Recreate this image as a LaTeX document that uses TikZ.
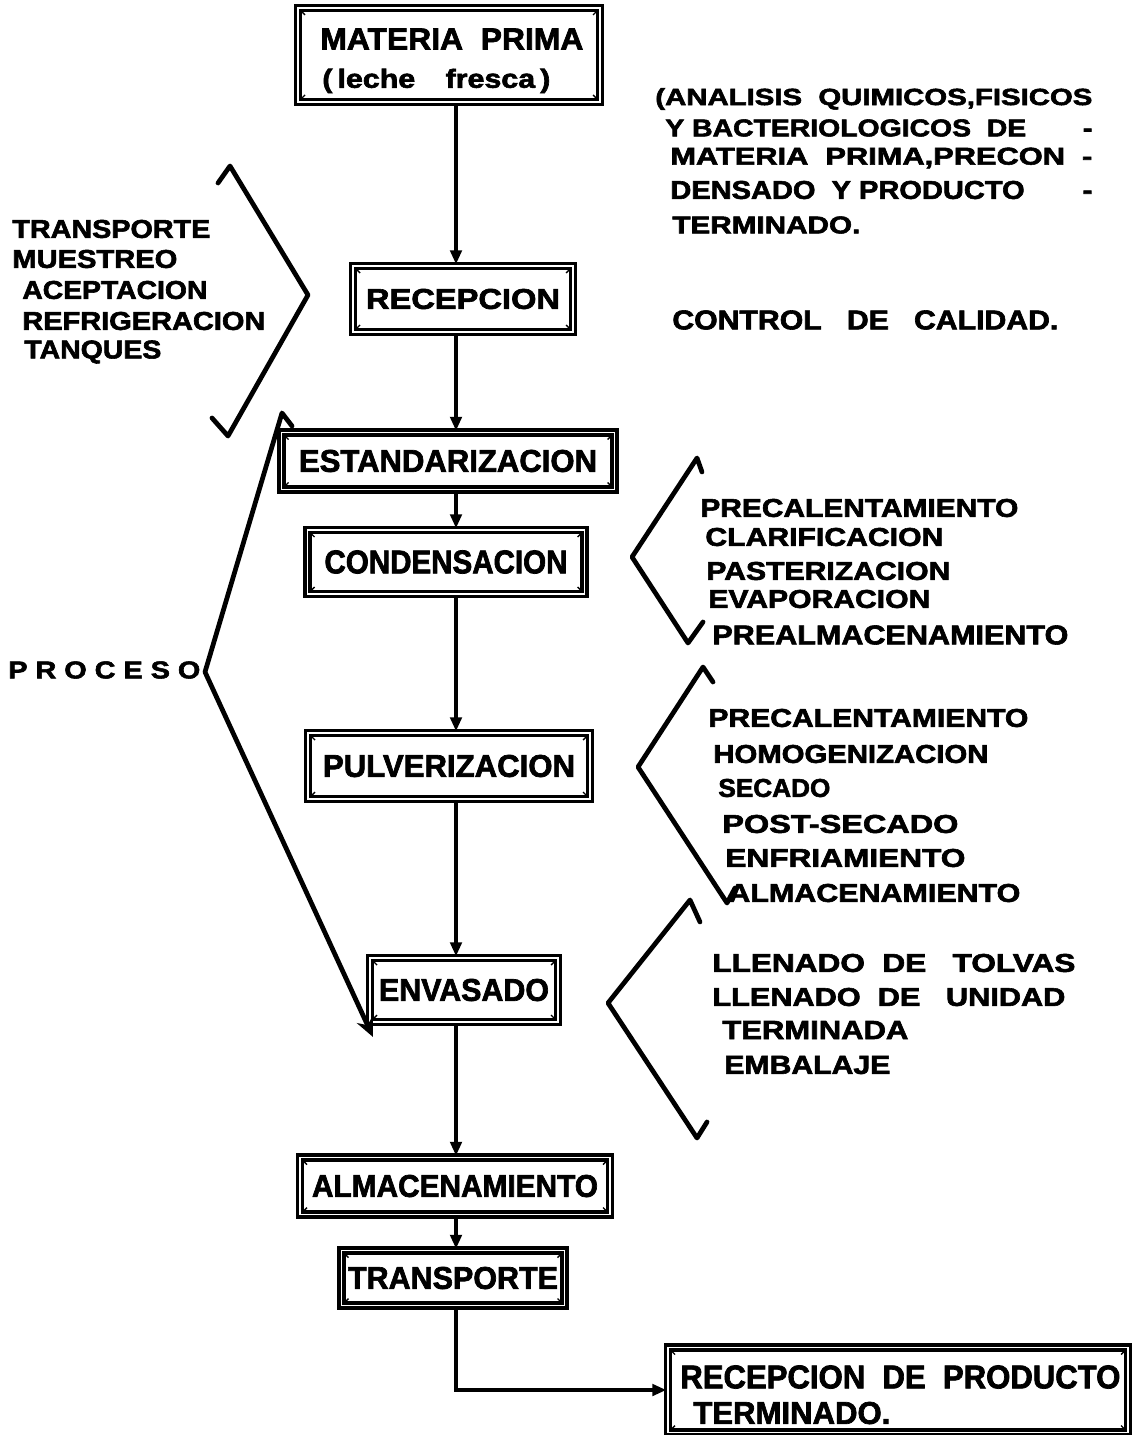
\documentclass[tikz,border=0pt]{standalone}
\usepackage{fontspec}
\setmainfont{Liberation Sans}[BoldFeatures={FakeBold=2.2}]
\usetikzlibrary{arrows.meta}
\newlength\pxu
\setlength\pxu{0.02cm}
\newcommand\T[3]{\resizebox{#1\pxu}{#2\pxu}{\bfseries #3}}
\begin{document}
\begin{tikzpicture}[x=0.02cm,y=-0.02cm,
  box/.style={draw, line width=1.9pt, double, double distance=0.8pt, inner sep=0pt, fill=white,
    path picture={\draw[line width=0.8pt]
      (path picture bounding box.north west) -- ++(7\pxu,-7\pxu)
      (path picture bounding box.north east) -- ++(-7\pxu,-7\pxu)
      (path picture bounding box.south west) -- ++(7\pxu,7\pxu)
      (path picture bounding box.south east) -- ++(-7\pxu,7\pxu);}},
  flow/.style={line width=2.3pt, -{Triangle[length=8pt,width=6.5pt]}},
  brk/.style={line width=2.7pt, line join=round, line cap=round},
  lbl/.style={anchor=west, inner sep=0pt}]
\useasboundingbox (0,0) rectangle (1135,1435);
\fill[white] (0,0) rectangle (1135,1435);
\coordinate (spine) at (456,0);

% boxes
\node[box, minimum width=302\pxu, minimum height=94\pxu] (mp) at (449,55) {};
\node[lbl] (mp1) at (320,39) {\T{263}{21}{MATERIA\ \ PRIMA}};
\node[lbl] (mp2) at (322,81) {\T{228}{19}{(\,leche\quad fresca\,)}};
\node[box, minimum width=220\pxu, minimum height=66\pxu] (rec) at (463,299) {\T{194}{20}{RECEPCION}};
\node[box, minimum width=333\pxu, minimum height=57\pxu] (est) at (448,461) {\T{298}{22}{ESTANDARIZACION}};
\node[box, minimum width=277\pxu, minimum height=64\pxu] (cond) at (446,562) {\T{243}{23}{CONDENSACION}};
\node[box, minimum width=282\pxu, minimum height=66\pxu] (pulv) at (449,766) {\T{252}{22}{PULVERIZACION}};
\node[box, minimum width=188\pxu, minimum height=64\pxu] (env) at (464,990) {\T{170}{22}{ENVASADO}};
\node[box, minimum width=310\pxu, minimum height=57\pxu] (alm) at (455,1186) {\T{286}{22}{ALMACENAMIENTO}};
\node[box, minimum width=223\pxu, minimum height=55\pxu] (trans) at (453,1278) {\T{210}{22}{TRANSPORTE}};
\node[box, minimum width=460\pxu, minimum height=85\pxu] (rpt) at (898,1390) {};
\node[lbl] (rpt1) at (680,1377) {\T{440}{23}{RECEPCION\ \ DE\ \ PRODUCTO}};
\node[lbl] (rpt2) at (693,1413) {\T{197}{22}{TERMINADO.}};

% flow connectors
\draw[flow] (mp.south -| spine) -- (rec.north -| spine);
\draw[flow] (rec.south -| spine) -- (est.north -| spine);
\draw[flow] (est.south -| spine) -- (cond.north -| spine);
\draw[flow] (cond.south -| spine) -- (pulv.north -| spine);
\draw[flow] (pulv.south -| spine) -- (env.north -| spine);
\draw[flow] (env.south -| spine) -- (alm.north -| spine);
\draw[flow] (alm.south -| spine) -- (trans.north -| spine);
\draw[flow] (trans.south -| spine) |- (rpt.west);

% top right texts
\node[lbl] (q1) at (655,99) {\T{437}{17}{(ANALISIS\ \ QUIMICOS,FISICOS}};
\node[lbl] (q2) at (665,128) {\T{427}{17}{Y BACTERIOLOGICOS\ \ DE\qquad -}};
\node[lbl] (q3) at (670,158) {\T{422}{17}{MATERIA\ \ PRIMA,PRECON\ \ -}};
\node[lbl] (q4) at (670,190) {\T{422}{18}{DENSADO\ \ Y PRODUCTO\qquad -}};
\node[lbl] (q5) at (672,225) {\T{188}{17}{TERMINADO.}};
\node[lbl] (cc) at (672,320) {\T{386}{19}{CONTROL\ \ \ DE\ \ \ CALIDAD.}};

% left texts
\node[lbl] (r1) at (12,229) {\T{198}{18}{TRANSPORTE}};
\node[lbl] (r2) at (12,259) {\T{165}{18}{MUESTREO}};
\node[lbl] (r3) at (22,290) {\T{185}{18}{ACEPTACION}};
\node[lbl] (r4) at (22,321) {\T{243}{18}{REFRIGERACION}};
\node[lbl] (r5) at (24,352) {\T{137}{18}{TANQUES}};
\node[lbl] (proc) at (8,670) {\T{192}{17}{P\ R\ O\ C\ E\ S\ O}};

% condensacion list
\node[lbl] (c1) at (700,508) {\T{318}{18}{PRECALENTAMIENTO}};
\node[lbl] (c2) at (705,537) {\T{238}{18}{CLARIFICACION}};
\node[lbl] (c3) at (706,571) {\T{244}{18}{PASTERIZACION}};
\node[lbl] (c4) at (708,599) {\T{222}{18}{EVAPORACION}};
\node[lbl] (c5) at (712,635) {\T{356}{19}{PREALMACENAMIENTO}};

% pulverizacion list
\node[lbl] (p1) at (708,718) {\T{320}{18}{PRECALENTAMIENTO}};
\node[lbl] (p2) at (713,754) {\T{275}{18}{HOMOGENIZACION}};
\node[lbl] (p3) at (718,788) {\T{112}{18}{SECADO}};
\node[lbl] (p4) at (722,824) {\T{236}{18}{POST-SECADO}};
\node[lbl] (p5) at (725,858) {\T{240}{18}{ENFRIAMIENTO}};
\node[lbl] (p6) at (728,893) {\T{292}{18}{ALMACENAMIENTO}};

% envasado list
\node[lbl] (e1) at (712,963) {\T{363}{18}{LLENADO\ \ DE\ \ \ TOLVAS}};
\node[lbl] (e2) at (712,997) {\T{353}{18}{LLENADO\ \ DE\ \ \ UNIDAD}};
\node[lbl] (e3) at (722,1030) {\T{186}{18}{TERMINADA}};
\node[lbl] (e4) at (724,1065) {\T{166}{18}{EMBALAJE}};

% brackets
\draw[brk] (218,183) -- (230,166) -- (308,295) -- (228,436) -- (212,418);
\draw[brk, -{Stealth[length=11pt,width=10pt]}] (292,426) -- (282,413) -- (205,672) -- (373,1037);
\draw[brk] (702,472) -- (697,458) -- (632,557) -- (688,643) -- (703,622);
\draw[brk] (713,682) -- (703,667) -- (638,767) -- (727,903) -- (735,888);
\draw[brk] (700,922) -- (690,900) -- (608,1003) -- (697,1138) -- (707,1122);
\end{tikzpicture}
\end{document}
